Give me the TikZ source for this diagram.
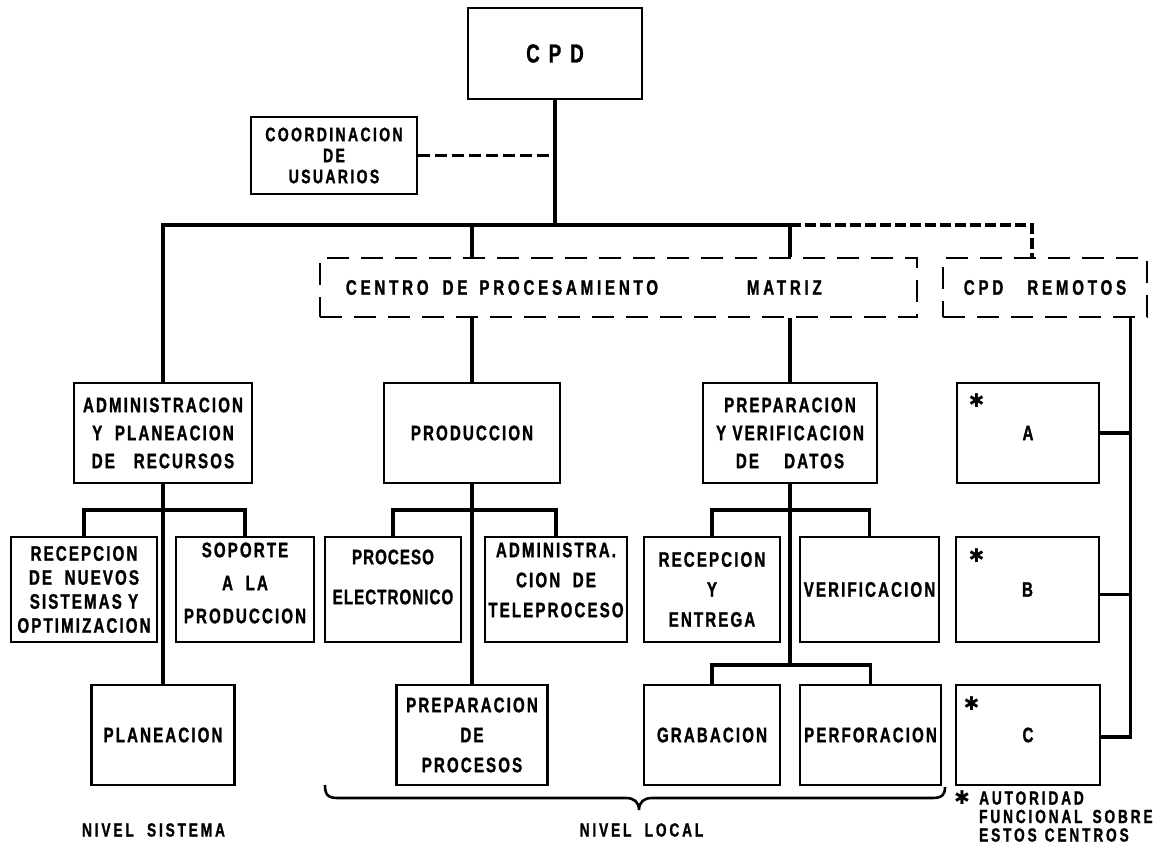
\documentclass[tikz,border=0pt]{standalone}
\usepackage{fontspec}
\newfontfamily\lett{Liberation Sans Bold}[FakeStretch=0.72,LetterSpace=10,FakeBold=1.2]
\newfontfamily\symf{DejaVu Sans}
\begin{document}
\begin{tikzpicture}[x=1pt,y=-1pt,
  txt/.style={font=\lett\fontsize{21}{28}\selectfont, align=center, inner sep=0pt},
  pitch/.style={font=\lett\fontsize{21}{#1}\selectfont},
  box/.style={draw, line width=2.6pt, inner sep=0pt, txt},
  dbox/.style={box, dash pattern=on 22pt off 12pt},
  wide/.style={font=\lett\fontsize{21}{28}\selectfont\addfontfeatures{LetterSpace=18}},
  conn/.style={line width=3.2pt},
  dconn/.style={line width=3.4pt, dash pattern=on 12pt off 5pt},
  dconnb/.style={line width=3.2pt, dash pattern=on 11pt off 4pt},
  star/.style={font=\symf\fontsize{19}{19}\selectfont, inner sep=0pt},
  note/.style={font=\lett\fontsize{19}{18.5}\selectfont\addfontfeatures{LetterSpace=15}, inner sep=0pt},
  brace/.style={line width=2.6pt}
]
\useasboundingbox (0,0) rectangle (1163,847);
\fill[white] (0,0) rectangle (1163,847);

% levels of the bus and of the branch bars
\coordinate (busY) at (0,225);
\coordinate (r3) at (0,510);
\coordinate (r4) at (0,665);

% head office and staff unit
\node[box, minimum width=174, minimum height=91,
      font=\lett\fontsize{26}{28}\selectfont] (cpd) at (555,53.5) {C\hspace{9pt}P\hspace{9pt}D};
\node[box, minimum width=166, minimum height=77,
      font=\lett\fontsize{19.5}{21}\selectfont\addfontfeatures{LetterSpace=12}] (coord) at (334,155.5)
      {COORDINACION\\DE\\USUARIOS};

% second level
\node[box, minimum width=178, minimum height=100] (admin) at (163,433) {ADMINISTRACION\\Y~~PLANEACION\\DE~~~RECURSOS};
\node[dbox, minimum width=597, minimum height=59] (cpm) at (618.5,287.5) {};
\node[txt, wide, anchor=west] (cpmtxt) at ([xshift=27pt]cpm.west) {CENTRO\hspace{14pt}DE\hspace{12pt}PROCESAMIENTO};
\node[txt, wide, anchor=west] (cpmtxt2) at ([xshift=428pt]cpm.west) {MATRIZ};
\node[dbox, wide, minimum width=204, minimum height=59] (rem) at (1045,287.5) {CPD\hspace{24pt}REMOTOS};

% third level
\node[box, minimum width=176, minimum height=100] (prod) at (472,433) {PRODUCCION};
\node[box, minimum width=174, minimum height=100] (prep) at (790,433) {PREPARACION\\Y~VERIFICACION\\DE~~~~DATOS};
\node[box, minimum width=142, minimum height=100] (A) at (1028,433) {A};

% fourth level
\node[box, pitch=24, minimum width=146, minimum height=105] (rn) at (84,589.5) {RECEPCION\\DE~~NUEVOS\\SISTEMAS~Y\\OPTIMIZACION};
\node[box, minimum width=138, minimum height=105] (sop) at (245,589.5) {};
\node[txt, pitch=33] (soptxt) at ([yshift=6.5pt]sop.center) {SOPORTE\\A~~LA\\PRODUCCION};
\node[box, minimum width=136, minimum height=105] (pe) at (393,589.5) {};
\node[txt, font=\lett\fontsize{21}{40}\selectfont\addfontfeatures{LetterSpace=5}] (petxt)
      at ([yshift=12.5pt]pe.center) {PROCESO\\ELECTRONICO};
\node[box, minimum width=142, minimum height=105] (tel) at (556,589.5) {};
\node[txt, pitch=30] (teltxt) at ([yshift=9.5pt]tel.center) {ADMINISTRA.\\CION~~DE\\TELEPROCESO};
\node[box, pitch=30, minimum width=136, minimum height=105] (re) at (712,589.5) {RECEPCION\\Y\\ENTREGA};
\node[box, minimum width=139, minimum height=105] (ver) at (869.5,589.5) {VERIFICACION};
\node[box, minimum width=143, minimum height=105] (B) at (1027.5,589.5) {B};

% fifth level
\node[box, minimum width=143, minimum height=100] (plan) at (163,735) {PLANEACION};
\node[box, pitch=30, minimum width=151, minimum height=100] (pp) at (472,735) {PREPARACION\\DE\\PROCESOS};
\node[box, minimum width=136, minimum height=100] (gra) at (712,735) {GRABACION};
\node[box, minimum width=141, minimum height=100] (per) at (870.5,735) {PERFORACION};
\node[box, minimum width=144, minimum height=100] (C) at (1028,735) {C};

% marks on the remote centres
\node[star] (sA) at ([xshift=21pt,yshift=-19pt]A.north west) {✱};
\node[star] (sB) at ([xshift=22pt,yshift=-20pt]B.north west) {✱};
\node[star] (sC) at ([xshift=17pt,yshift=-20pt]C.north west) {✱};

% connectors from the head office
\draw[conn] (cpd.south) -- (cpd.south |- busY);
\draw[dconn] (coord.east) -- (coord.east -| cpd.south);
\draw[conn] (admin.north) |- (cpd.south |- busY) -| (prep.north |- cpm.north);
\draw[conn] (prod.north |- busY) -- (prod.north |- cpm.north);
\coordinate (remIn) at ([xshift=-13pt]rem.north);
\draw[dconnb] (prep.north |- busY) -| (remIn);

% matrix centre to its departments
\draw[conn] (cpm.south -| prod.north) -- (prod.north);
\draw[conn] (cpm.south -| prep.north) -- (prep.north);

% administration branch
\draw[conn] (admin.south) -- (plan.north);
\draw[conn] (rn.north) |- (admin.south |- r3) -| (sop.north);

% production branch
\draw[conn] (prod.south) -- (pp.north);
\draw[conn] (pe.north) |- (prod.south |- r3) -| (tel.north);

% data preparation branch
\draw[conn] (prep.south) -- (prep.south |- r4);
\draw[conn] (re.north) |- (prep.south |- r3) -| (ver.north);
\draw[conn] (gra.north) |- (prep.south |- r4) -| (per.north);

% remote centres spine
\coordinate (sp) at ([xshift=-18pt]rem.south east);
\draw[conn] (sp) |- ([yshift=-2pt]C.east);
\draw[conn] (A.east) -- (A.east -| sp);
\draw[conn] ([yshift=-5pt]B.east) -- ([yshift=-5pt]B.east -| sp);

% brace under the local level
\draw[brace] (325,785) .. controls (325,795) and (328,798) .. (338,798) -- (626,798)
  .. controls (634,798) and (639,802) .. (639,810)
  .. controls (639,802) and (644,798) .. (652,798) -- (932,798)
  .. controls (942,798) and (945,795) .. (945,787);

% level names and footnote
\node[note] (ns) at (153.5,830) {NIVEL~~SISTEMA};
\node[note] (nl) at (641.5,830) {NIVEL~~LOCAL};
\node[star] (sN) at (962,798) {✱};
\node[note, anchor=west, align=left] (fn) at (979,816.5) {AUTORIDAD\\FUNCIONAL\hspace{10pt}SOBRE\\ESTOS\hspace{8pt}CENTROS};
\end{tikzpicture}
\end{document}
